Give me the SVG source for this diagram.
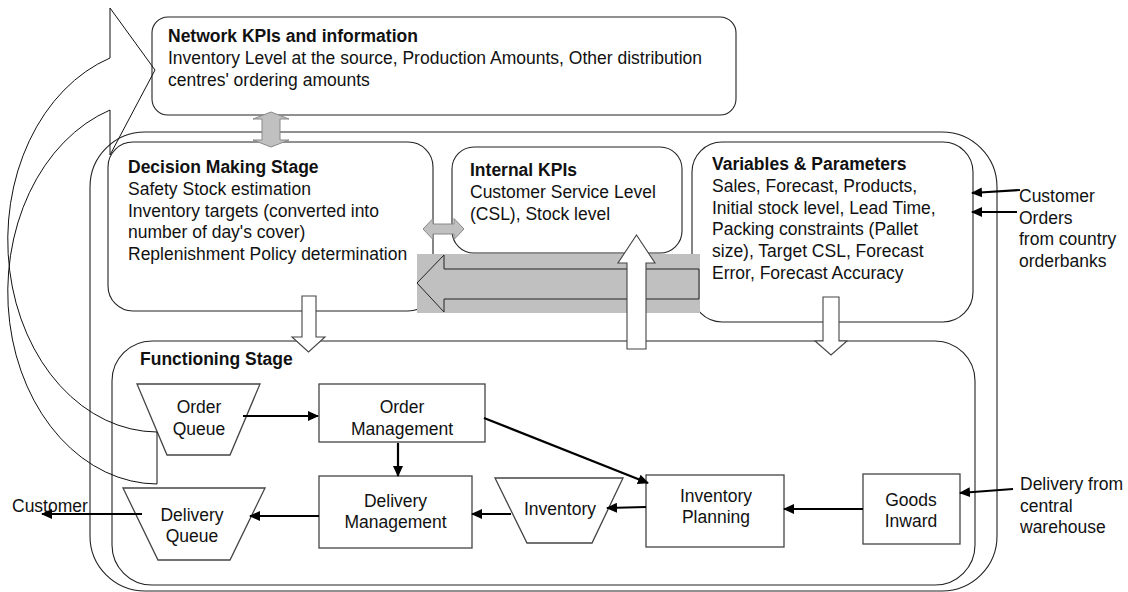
<svg xmlns="http://www.w3.org/2000/svg" width="1128" height="592" viewBox="0 0 1128 592">
  <style>
    .txt { font-family: "Liberation Sans", Arial, sans-serif; font-size: 17.5px; fill: #111; }
    .hd { font-weight: bold; }
    .mid { text-anchor: middle; }
    .panel { fill: none; stroke: #222; stroke-width: 1.1; }
    .node { fill: #fff; stroke: #444; stroke-width: 1.3; }
    .conn { fill: none; stroke: #000; stroke-width: 2.2; marker-end: url(#head); }
    .blockW { fill: #fff; stroke: #444; stroke-width: 1.1; }
    .blockG { fill: #c0c0c0; stroke: #888; stroke-width: 1; }
  </style>
  <defs>
    <marker id="head" markerUnits="userSpaceOnUse" markerWidth="11" markerHeight="10" refX="10" refY="5" orient="auto">
      <path d="M0,0 L11,5 L0,10 z" fill="#000"/>
    </marker>
  </defs>

  <rect width="1128" height="592" fill="#fff"/>

  <!-- outer container of the distribution centre -->
  <rect id="container" class="panel" x="90" y="132" width="907" height="459" rx="55" ry="55"/>

  <!-- network KPIs -->
  <g id="network-kpis">
    <rect class="panel" x="152" y="17" width="584" height="98" rx="16" ry="16"/>
    <text class="txt hd" x="168" y="42">Network KPIs and information</text>
    <text class="txt" x="168" y="64">Inventory Level at the source, Production Amounts, Other distribution</text>
    <text class="txt" x="168" y="86">centres' ordering amounts</text>
  </g>

  <!-- decision making stage -->
  <g id="decision-stage">
    <rect class="panel" x="108" y="142" width="325" height="169" rx="25" ry="25"/>
    <text class="txt hd" x="128" y="172.5">Decision Making Stage</text>
    <text class="txt" x="128" y="194.5">Safety Stock estimation</text>
    <text class="txt" x="128" y="216.5">Inventory targets (converted into</text>
    <text class="txt" x="128" y="238">number of day's cover)</text>
    <text class="txt" x="128" y="260">Replenishment Policy determination</text>
  </g>

  <!-- internal KPIs -->
  <g id="internal-kpis">
    <rect class="panel" x="452" y="147" width="230" height="106" rx="22" ry="22"/>
    <text class="txt hd" x="470" y="176">Internal KPIs</text>
    <text class="txt" x="470" y="198">Customer Service Level</text>
    <text class="txt" x="470" y="220">(CSL), Stock level</text>
  </g>

  <!-- variables and parameters -->
  <g id="variables">
    <rect class="panel" x="692" y="142" width="281" height="180" rx="30" ry="30"/>
    <text class="txt hd" x="712" y="170">Variables &amp; Parameters</text>
    <text class="txt" x="712" y="192">Sales, Forecast, Products,</text>
    <text class="txt" x="712" y="213.5">Initial stock level, Lead Time,</text>
    <text class="txt" x="712" y="235">Packing constraints (Pallet</text>
    <text class="txt" x="712" y="257">size), Target CSL, Forecast</text>
    <text class="txt" x="712" y="279">Error, Forecast Accuracy</text>
  </g>

  <!-- functioning stage -->
  <g id="functioning-stage">
    <rect class="panel" x="112" y="341" width="863" height="244" rx="40" ry="40"/>
    <text class="txt hd" x="140" y="365">Functioning Stage</text>
  </g>

  <!-- feedback band from variables to decision making -->
  <g id="feedback-band">
    <rect x="417" y="254" width="283" height="59" fill="#c0c0c0"/>
    <polygon points="417,283 444,255 444,269 699,269 699,299 444,299 444,312" fill="#c0c0c0" stroke="#222" stroke-width="1"/>
  </g>

  <!-- block arrows between stages -->
  <g id="stage-arrows">
    <polygon class="blockG" points="271,112 289,119 280,119 280,140 289,140 271,147 253,140 262,140 262,119 253,119"/>
    <polygon class="blockG" points="423,229 433,218.5 433,224 454,224 454,218.5 464,229 454,239.5 454,234 433,234 433,239.5"/>
    <polygon class="blockW" points="302,296 316,296 316,337 325,337 308.5,352 292,337 302,337"/>
    <polygon class="blockW" points="823,297 839,297 839,341 847,341 831,355 815,341 823,341"/>
    <polygon class="blockW" stroke="#222" points="627,349 646,349 646,263 655,263 636.5,235 618,263 627,263"/>
  </g>

  <!-- functioning stage nodes -->
  <g id="order-queue">
    <polygon class="node" points="137,384 260,384 230,455 167,455"/>
    <text class="txt mid" x="199" y="413">Order</text>
    <text class="txt mid" x="199" y="435">Queue</text>
  </g>
  <g id="order-management">
    <rect class="node" x="319" y="384" width="166" height="58"/>
    <text class="txt mid" x="402" y="413">Order</text>
    <text class="txt mid" x="402" y="435">Management</text>
  </g>
  <g id="delivery-queue">
    <polygon class="node" points="123,488 265,488 230,560 158,560"/>
    <text class="txt mid" x="192" y="521">Delivery</text>
    <text class="txt mid" x="192" y="542">Queue</text>
  </g>
  <g id="delivery-management">
    <rect class="node" x="319" y="476" width="153" height="72"/>
    <text class="txt mid" x="395.5" y="507">Delivery</text>
    <text class="txt mid" x="395.5" y="528">Management</text>
  </g>
  <g id="inventory">
    <polygon class="node" points="495,478 623,478 592,543 527,543"/>
    <text class="txt mid" x="560" y="515">Inventory</text>
  </g>
  <g id="inventory-planning">
    <rect class="node" x="646" y="475" width="138" height="72"/>
    <text class="txt mid" x="716" y="502">Inventory</text>
    <text class="txt mid" x="716" y="523">Planning</text>
  </g>
  <g id="goods-inward">
    <rect class="node" x="863" y="474" width="97" height="70"/>
    <text class="txt mid" x="911" y="506">Goods</text>
    <text class="txt mid" x="911" y="527">Inward</text>
  </g>

  <!-- external labels -->
  <g id="customer-orders">
    <text class="txt" x="1019" y="202">Customer</text>
    <text class="txt" x="1019" y="223.5">Orders</text>
    <text class="txt" x="1019" y="245">from country</text>
    <text class="txt" x="1019" y="267">orderbanks</text>
  </g>
  <g id="central-delivery">
    <text class="txt" x="1020" y="490">Delivery from</text>
    <text class="txt" x="1020" y="512">central</text>
    <text class="txt" x="1020" y="533">warehouse</text>
  </g>
  <g id="customer">
    <text class="txt" x="12" y="512">Customer</text>
  </g>

  <!-- connectors -->
  <g id="connectors">
    <line class="conn" x1="243" y1="416" x2="318" y2="416"/>
    <line class="conn" x1="398" y1="443" x2="398" y2="476"/>
    <line class="conn" x1="484" y1="418" x2="648" y2="483"/>
    <line class="conn" x1="646" y1="507" x2="607" y2="508"/>
    <line class="conn" x1="511" y1="514" x2="472" y2="514"/>
    <line class="conn" x1="319" y1="516" x2="250" y2="516"/>
    <line class="conn" x1="142" y1="514" x2="42" y2="514"/>
    <line class="conn" x1="863" y1="509" x2="784" y2="509"/>
    <line class="conn" x1="1013" y1="489" x2="960" y2="493"/>
    <line class="conn" x1="1020" y1="190" x2="972" y2="193"/>
    <line class="conn" x1="1017" y1="212" x2="972" y2="212"/>
    <!-- curved return arrow from the order queue to the network -->
    <path d="M157,484 A150,192 0 0 1 110,110 L110,155 L155,70 L110,8 L110,58 A150,192 0 0 0 157,432 Z" fill="none" stroke="#111" stroke-width="1"/>
  </g>
</svg>
